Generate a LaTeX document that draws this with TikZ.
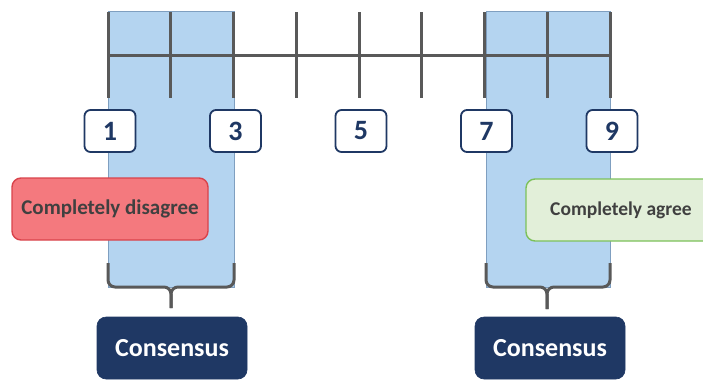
\documentclass[tikz,border=0pt]{standalone}
\usepackage{fontspec}
\setmainfont{Carlito}
\usetikzlibrary{positioning}
\definecolor{navy}{HTML}{1F3864}
\definecolor{tickgray}{HTML}{595959}
\definecolor{bandblue}{HTML}{B4D4F0}
\definecolor{bandedge}{HTML}{7F9FC0}
\definecolor{redfill}{HTML}{F4797E}
\definecolor{rededge}{HTML}{D9434B}
\definecolor{greenfill}{HTML}{E2EFD9}
\definecolor{greenedge}{HTML}{7CC15A}
\definecolor{textgray}{HTML}{404040}

\begin{document}
\begin{tikzpicture}[x=1pt,y=-1pt,semithick]
	\tikzstyle{band}=[fill=bandblue,draw=bandedge,line width=0.6pt]
	\tikzstyle{tick}=[draw=tickgray,line width=3pt]
	\tikzstyle{scale box}=[draw=navy,fill=white,line width=1.8pt,rounded corners=6pt,minimum width=51pt,minimum height=42pt,inner sep=0pt,text=navy,font=\fontsize{28}{28}\selectfont\bfseries]
	\tikzstyle{pole}=[line width=1.4pt,rounded corners=9pt,minimum width=196pt,minimum height=62pt,inner sep=0pt,text=textgray,font=\fontsize{21}{21}\selectfont\bfseries]
	\tikzstyle{consensus}=[fill=navy,draw=navy,rounded corners=9pt,minimum width=150pt,minimum height=62pt,inner sep=0pt,text=white,font=\fontsize{26}{26}\selectfont\bfseries]
	\tikzstyle{brace}=[draw=tickgray,line width=3pt,rounded corners=7pt]

	\useasboundingbox (0,0) rectangle (703,380);

	% shaded ranges
	\draw[band] (108,11) rectangle (234,287);
	\draw[band] (486,11) rectangle (610,287);

	% the scale
	\draw[tick] (108,55) -- (610,55);
	\foreach \i in {1,...,9}
		\draw[tick] ({108+(\i-1)*62.75},12) -- ++(0,86);

	\foreach \i in {1,3,5,7,9}
		\node[scale box] (n\i) at ({110+(\i-1)*62.75},131) {\i};

	% end labels
	\node[pole,fill=redfill,draw=rededge] (disagree) at (110,209) {Completely disagree};
	\node[pole,fill=greenfill,draw=greenedge,minimum width=190pt,font=\fontsize{19.5}{19.5}\selectfont\bfseries] (agree) at (621,210) {Completely agree};

	% consensus boxes
	\node[consensus] (consL) at (172,348) {Consensus};
	\node[consensus] (consR) at (550,348) {Consensus};

	\coordinate (tailL) at (171,308);
	\coordinate (tailR) at (547,309);

	\draw[brace] (108,263) -- (108,287) -- (171,287) -- (tailL);
	\draw[brace] (234,263) -- (234,287) -- (171,287) -- (tailL);
	\draw[brace] (486,263) -- (486,287) -- (547,287) -- (tailR);
	\draw[brace] (610,263) -- (610,287) -- (547,287) -- (tailR);
\end{tikzpicture}
\end{document}
